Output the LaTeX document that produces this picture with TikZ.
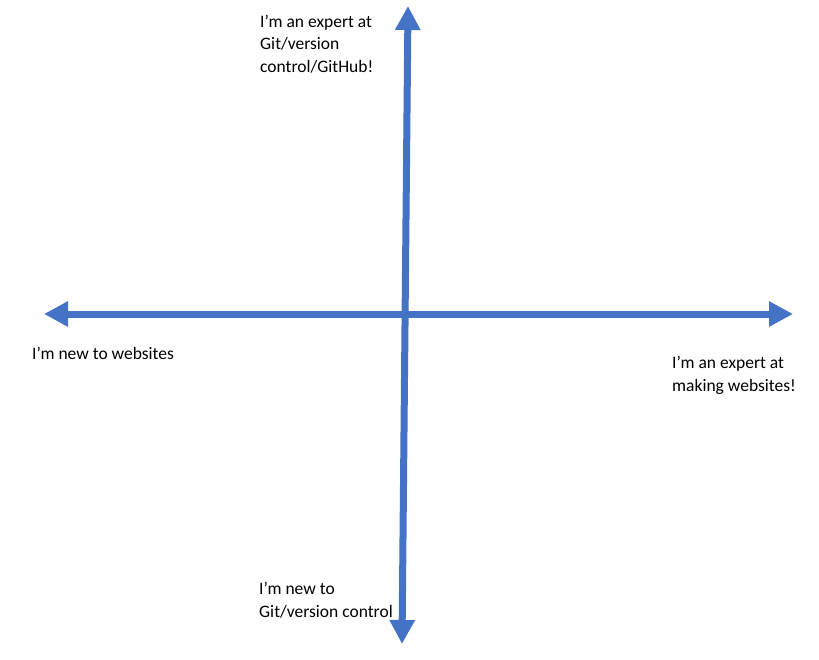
\documentclass[tikz,border=0pt]{standalone}
\usepackage{fontspec}
\setmainfont{Carlito}
\usetikzlibrary{arrows.meta}
\definecolor{axisblue}{HTML}{4472C4}
\begin{document}
\begin{tikzpicture}[x=1pt,y=-1pt,
  axis/.style={draw=axisblue,line width=7pt,
    {Triangle[length=24pt,width=24pt]}-{Triangle[length=24pt,width=24pt]}},
  lbl/.style={anchor=base west,inner sep=0pt,align=left,
    font=\fontsize{17.5}{22.5}\selectfont}]
  \useasboundingbox (0,0) rectangle (819,659);
  % axis end points
  \coordinate (left)   at (44,314);
  \coordinate (right)  at (793,314);
  \coordinate (top)    at (408,6);
  \coordinate (bottom) at (402,644);
  % the two axes
  \draw[axis] (left) -- (right);
  \draw[axis] (bottom) -- (top);
  % quadrant labels (placed by the baseline of their last line)
  \node[lbl] (gitexpert) at (260,72) {I’m an expert at\\Git/version\\control/GitHub!};
  \node[lbl] (gitnew) at (259,617) {I’m new to\\Git/version control};
  \node[lbl] (webnew) at (32,359) {I’m new to websites};
  \node[lbl] (webexpert) at (672,391) {I’m an expert at\\making websites!};
\end{tikzpicture}
\end{document}
